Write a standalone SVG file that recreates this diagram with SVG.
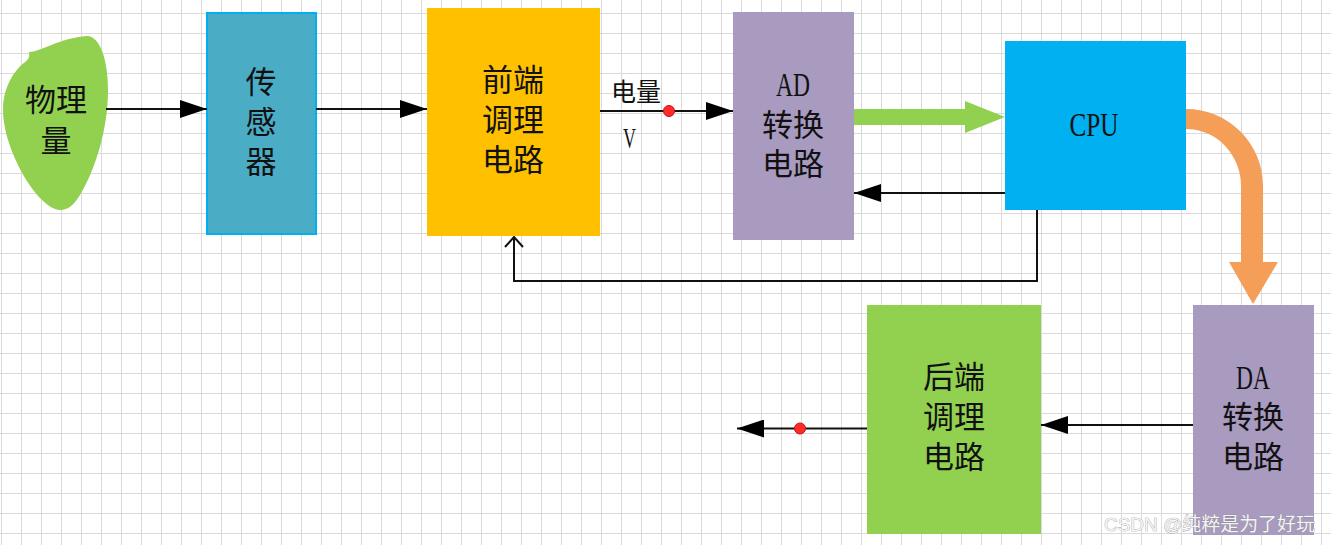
<svg xmlns="http://www.w3.org/2000/svg" width="1331" height="545" viewBox="0 0 1331 545">
<style>
.cjk{font-family:"Liberation Sans","Noto Sans CJK SC","Noto Sans CJK JP",sans-serif;font-size:31px;fill:#111;text-anchor:middle}
.lat{font-family:"Liberation Serif",serif;font-size:33px;fill:#111;text-anchor:middle}
.ln{stroke:#111;stroke-width:2;fill:none}
.dot{fill:#ff2a2a;stroke:#c81414;stroke-width:1}
</style>
<defs>
<pattern id="grid" x="1" y="13" width="20" height="20" patternUnits="userSpaceOnUse">
<rect x="0" y="0" width="20" height="1" fill="#dadada"/>
<rect x="0" y="0" width="1" height="20" fill="#dadada"/>
</pattern>
<marker id="tri" viewBox="0 0 27 18" refX="27" refY="9" markerWidth="27" markerHeight="18" markerUnits="userSpaceOnUse" orient="auto">
<path d="M0,0 L27,9 L0,18 Z" fill="#000"/>
</marker>
<marker id="open" viewBox="0 0 12 20" refX="11" refY="10" markerWidth="12" markerHeight="20" markerUnits="userSpaceOnUse" orient="auto">
<path d="M1,1 L11,10 L1,19" fill="none" stroke="#111" stroke-width="2"/>
</marker>
</defs>
<rect width="1331" height="545" fill="#fff"/>
<rect width="1331" height="545" fill="url(#grid)"/>

<g id="n-physical">
<path d="M87,36 C100,36 108,60 108,90 C108,130 95,170 80,195 C74,205 68,210 60,210 C48,210 30,190 18,165 C8,145 3,125 3,110 C3,90 12,72 25,62 C28,60 30,57 29,52 C40,52 60,38 87,36 Z" fill="#92d050"/>
<text class="cjk"><tspan x="56" y="111">物理</tspan><tspan x="56" y="152">量</tspan></text>
</g>

<g id="n-sensor">
<rect x="207" y="13" width="109" height="221" fill="#4bacc6" stroke="#00b0f0" stroke-width="2"/>
<text class="cjk"><tspan x="261" y="93">传</tspan><tspan x="261" y="133">感</tspan><tspan x="261" y="173">器</tspan></text>
</g>

<g id="n-front">
<rect x="427" y="8" width="173" height="228" fill="#ffc000"/>
<text class="cjk"><tspan x="513" y="91">前端</tspan><tspan x="513" y="131">调理</tspan><tspan x="513" y="171">电路</tspan></text>
</g>

<g id="n-ad">
<rect x="733" y="12" width="121" height="228" fill="#a99ac0"/>
<text class="cjk"><tspan class="lat" x="793" y="96" textLength="34" lengthAdjust="spacingAndGlyphs">AD</tspan><tspan x="793" y="136">转换</tspan><tspan x="793" y="175">电路</tspan></text>
</g>

<g id="n-cpu">
<rect x="1005" y="41" width="181" height="169" fill="#00b0f0"/>
<text class="lat" x="1094" y="136" textLength="49" lengthAdjust="spacingAndGlyphs">CPU</text>
</g>

<g id="n-da">
<rect x="1193" y="305" width="121" height="230" fill="#a99ac0"/>
<text class="cjk"><tspan class="lat" x="1253" y="389" textLength="34" lengthAdjust="spacingAndGlyphs">DA</tspan><tspan x="1253" y="428">转换</tspan><tspan x="1253" y="468">电路</tspan></text>
</g>

<g id="n-back">
<rect x="867" y="305" width="174" height="229" fill="#92d050"/>
<text class="cjk"><tspan x="954" y="388">后端</tspan><tspan x="954" y="428">调理</tspan><tspan x="954" y="468">电路</tspan></text>
</g>

<g id="connectors">
<line class="ln" x1="106" y1="109" x2="207" y2="109" marker-end="url(#tri)"/>
<line class="ln" x1="316" y1="109" x2="427" y2="109" marker-end="url(#tri)"/>
<line class="ln" x1="600" y1="111" x2="733" y2="111" marker-end="url(#tri)"/>
<circle class="dot" cx="669" cy="111" r="5.5"/>
<text x="636" y="101" style="font-family:'Liberation Sans','Noto Sans CJK SC',sans-serif;font-size:25px;fill:#111;text-anchor:middle">电量</text>
<text x="623" y="148" style="font-family:'Liberation Serif',serif;font-size:30px;fill:#111" textLength="13" lengthAdjust="spacingAndGlyphs">V</text>
<path d="M854,109 L965,109 L965,101 L1005,117 L965,133 L965,125 L854,125 Z" fill="#92d050"/>
<line class="ln" x1="1005" y1="193" x2="854" y2="193" marker-end="url(#tri)"/>
<polyline class="ln" points="1037,210 1037,281 514,281 514,237" marker-end="url(#open)"/>
<path d="M1186,109 A77,77 0 0 1 1263,186 L1263,262 L1278,262 L1253,304 L1229,262 L1241,262 L1241,186 A55,57 0 0 0 1186,129 Z" fill="#f59e58"/>
<line class="ln" x1="1193" y1="425" x2="1041" y2="425" marker-end="url(#tri)"/>
<line class="ln" x1="867" y1="428.5" x2="737" y2="428.5" marker-end="url(#tri)"/>
<circle class="dot" cx="800" cy="428.5" r="5.5"/>
</g>

<text x="1104" y="531" textLength="211" lengthAdjust="spacingAndGlyphs" style="font-family:'Liberation Sans','Noto Sans CJK SC',sans-serif;font-size:19px;fill:#f4f4f4;stroke:#8a8a8a;stroke-width:0.6;paint-order:stroke">CSDN @纯粹是为了好玩</text>
</svg>
